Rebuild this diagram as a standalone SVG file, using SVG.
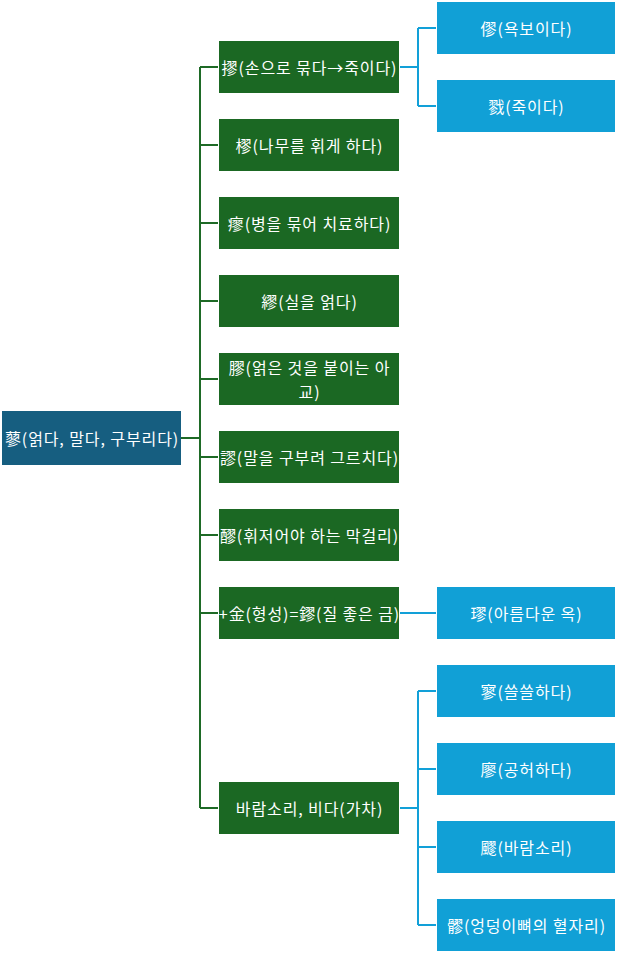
<svg xmlns="http://www.w3.org/2000/svg" width="618" height="954" viewBox="0 0 618 954">
<style>
.root{fill:#165e80}
.g{fill:#1b6823}
.b{fill:#11a0d6}
text{font-family:"Noto Sans CJK KR","Noto Sans",sans-serif;font-size:16px;letter-spacing:0.9px;fill:#ffffff;text-anchor:middle;dominant-baseline:central}
.gl{stroke:#1e6a26;stroke-width:2;fill:none}
.bl{stroke:#12a0d8;stroke-width:2;fill:none}
</style>
<rect width="618" height="954" fill="#ffffff"/>
<g id="connectors">
<path class="gl" d="M181 438H200" stroke-width="3"/>
<path class="gl" d="M200 67V808"/>
<path class="gl" d="M200 67H218M200 145H218M200 223H218M200 301H218M200 379H218M200 457H218M200 535H218M200 613H218M200 808H218"/>
<path class="bl" d="M400 67H418M418 28V106M418 28H436M418 106H436"/>
<path class="bl" d="M400 613H436"/>
<path class="bl" d="M400 808H418M418 691V925M418 691H436M418 769H436M418 847H436M418 925H436"/>
</g>
<g id="n0"><rect class="root" x="2" y="411" width="179" height="54"/><text x="92" y="438">蓼(얽다, 말다, 구부리다)</text></g>
<g id="n1"><rect class="g" x="219" y="41" width="180" height="52"/><text x="309.5" y="67">摎(손으로 묶다→죽이다)</text></g>
<g id="n2"><rect class="g" x="219" y="119" width="180" height="52"/><text x="309.5" y="145">樛(나무를 휘게 하다)</text></g>
<g id="n3"><rect class="g" x="219" y="197" width="180" height="52"/><text x="309.5" y="223">瘳(병을 묶어 치료하다)</text></g>
<g id="n4"><rect class="g" x="219" y="275" width="180" height="52"/><text x="309.5" y="301">繆(실을 얽다)</text></g>
<g id="n5"><rect class="g" x="219" y="353" width="180" height="52"/><text x="309.5" y="367">膠(얽은 것을 붙이는 아</text><text x="309.5" y="391">교)</text></g>
<g id="n6"><rect class="g" x="219" y="431" width="180" height="52"/><text x="309.5" y="457">謬(말을 구부려 그르치다)</text></g>
<g id="n7"><rect class="g" x="219" y="509" width="180" height="52"/><text x="309.5" y="535">醪(휘저어야 하는 막걸리)</text></g>
<g id="n8"><rect class="g" x="219" y="587" width="180" height="52"/><text x="309.5" y="613">+金(형성)=鏐(질 좋은 금)</text></g>
<g id="n9"><rect class="g" x="219" y="782" width="180" height="52"/><text x="309.5" y="808">바람소리, 비다(가차)</text></g>
<g id="n10"><rect class="b" x="437" y="2" width="178" height="52"/><text x="526.5" y="28">僇(욕보이다)</text></g>
<g id="n11"><rect class="b" x="437" y="80" width="178" height="52"/><text x="526.5" y="106">戮(죽이다)</text></g>
<g id="n12"><rect class="b" x="437" y="587" width="178" height="52"/><text x="526.5" y="613">璆(아름다운 옥)</text></g>
<g id="n13"><rect class="b" x="437" y="665" width="178" height="52"/><text x="526.5" y="691">寥(쓸쓸하다)</text></g>
<g id="n14"><rect class="b" x="437" y="743" width="178" height="52"/><text x="526.5" y="769">廖(공허하다)</text></g>
<g id="n15"><rect class="b" x="437" y="821" width="178" height="52"/><text x="526.5" y="847">飂(바람소리)</text></g>
<g id="n16"><rect class="b" x="437" y="899" width="178" height="52"/><text x="526.5" y="925">髎(엉덩이뼈의 혈자리)</text></g>
</svg>
